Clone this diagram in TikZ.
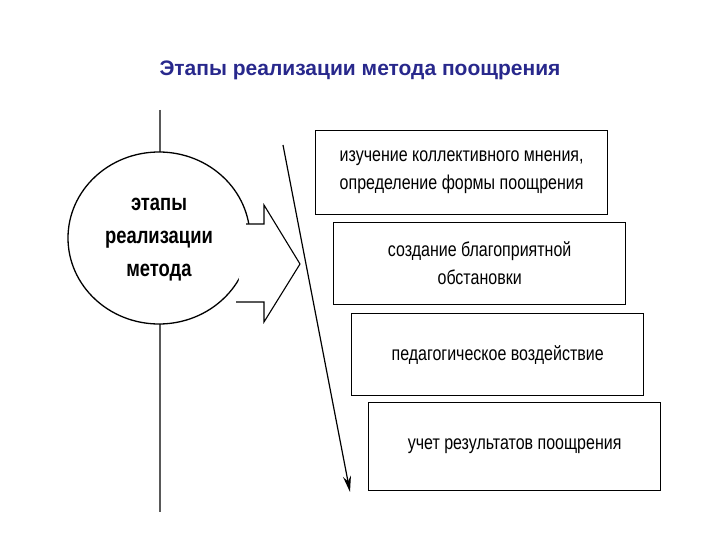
\documentclass[tikz,border=0pt]{standalone}
\usepackage{fontspec}
\setmainfont{Liberation Sans}
\usetikzlibrary{shapes.geometric,arrows.meta}
\definecolor{titleblue}{RGB}{40,40,140}
\begin{document}
\begin{tikzpicture}[x=1pt,y=-1pt,
 stagebox/.style={draw,line width=1.3pt,minimum width=292pt,minimum height=82pt,align=center,font=\fontsize{20}{28}\selectfont,anchor=north west,inner sep=0pt}]
\useasboundingbox (0,0) rectangle (720,540);
\node[font=\bfseries\fontsize{21}{24}\selectfont,text=titleblue] (title) at (360,70) {Этапы реализации метода поощрения};
\draw[line width=2pt,gray!70!black] (160,110) -- (160,512);
\node[draw,ellipse,line width=1.3pt,fill=white,minimum width=182pt,minimum height=172pt] (el) at (159,238) {};
\node[font=\bfseries\fontsize{23}{33}\selectfont,align=center] (eltext) at (159,240) {\scalebox{0.8}[1]{этапы}\\\scalebox{0.8}[1]{реализации}\\\scalebox{0.8}[1]{метода}};
\draw[line width=1.1pt,fill=white] (246,224) -- (264,224) -- (264,205) -- (300,264) -- (264,322) -- (264,302) -- (236,302);
\coordinate (as) at (283,145);
\coordinate (ae) at (350,492);
\draw[line width=1.2pt,-{Stealth[length=16pt,width=8pt]}] (as) -- (ae);
\node[stagebox,minimum height=84pt] (b1) at (315,130) {\scalebox{0.8}[1]{изучение коллективного мнения,}\\\scalebox{0.8}[1]{определение формы поощрения}};
\node[stagebox] (b2) at (333,222) {\scalebox{0.8}[1]{создание благоприятной}\\\scalebox{0.8}[1]{обстановки}};
\node[stagebox] (b3) at (351,313) {\scalebox{0.8}[1]{педагогическое воздействие}};
\node[stagebox,minimum height=88pt] (b4) at (368,402) {\scalebox{0.8}[1]{учет результатов поощрения}};
\end{tikzpicture}
\end{document}
